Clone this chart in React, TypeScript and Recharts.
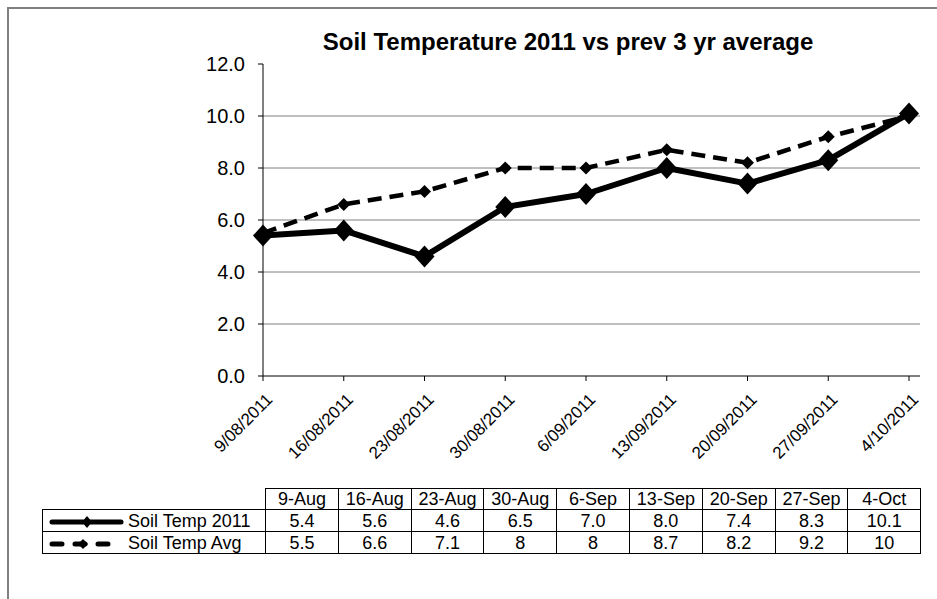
import React from "react";
import { LineChart, Line, XAxis, YAxis, CartesianGrid } from "recharts";

const dates = [
  "9/08/2011",
  "16/08/2011",
  "23/08/2011",
  "30/08/2011",
  "6/09/2011",
  "13/09/2011",
  "20/09/2011",
  "27/09/2011",
  "4/10/2011",
];
const shortDates = ["9-Aug", "16-Aug", "23-Aug", "30-Aug", "6-Sep", "13-Sep", "20-Sep", "27-Sep", "4-Oct"];
const temp2011 = [5.4, 5.6, 4.6, 6.5, 7.0, 8.0, 7.4, 8.3, 10.1];
const tempAvg = [5.5, 6.6, 7.1, 8, 8, 8.7, 8.2, 9.2, 10];
const yTicks = [0, 2, 4, 6, 8, 10, 12];

const data = dates.map((d, i) => ({ date: d, t2011: temp2011[i], avg: tempAvg[i] }));

const FONT = "'Liberation Sans', Arial, sans-serif";

const diamond = (rx: number, ry: number) => (props: any) => {
  const { cx, cy, index } = props;
  if (cx == null || cy == null) return <g key={index} />;
  return (
    <path
      key={index}
      d={`M${cx},${cy - ry}L${cx + rx},${cy}L${cx},${cy + ry}L${cx - rx},${cy}Z`}
      fill="#000"
    />
  );
};

const DateTick = (props: any) => {
  const { x, y, payload } = props;
  return (
    <g transform={`translate(${x + 2},${y + 11})`}>
      <text
        x={0}
        y={0}
        dy="0.71em"
        textAnchor="end"
        transform="rotate(-45)"
        fontSize={17}
        fontFamily={FONT}
        fill="#000"
      >
        {payload.value}
      </text>
    </g>
  );
};

const gridLines = ({ yAxis, offset }: any) =>
  yTicks
    .slice(1, -1)
    .map((v) =>
      yAxis && typeof yAxis.scale === "function"
        ? yAxis.scale(v)
        : offset.top + offset.height * (1 - v / yTicks[yTicks.length - 1])
    );

const LegendKey = ({ dashed }: { dashed?: boolean }) => (
  <svg width={85} height={14} style={{ verticalAlign: "middle" }}>
    {dashed ? (
      <>
        <line x1={9} y1={7} x2={70} y2={7} stroke="#000" strokeWidth={5} strokeLinecap="round" strokeDasharray="10 13" />
        <path d="M40,2L45,7L40,12L35,7Z" fill="#000" />
      </>
    ) : (
      <>
        <line x1={9} y1={7} x2={78} y2={7} stroke="#000" strokeWidth={5} strokeLinecap="round" />
        <path d="M44,1L49,7L44,13L39,7Z" fill="#000" />
      </>
    )}
  </svg>
);

const cell: React.CSSProperties = {
  border: "1px solid #000",
  padding: 0,
  textAlign: "center",
  whiteSpace: "nowrap",
  lineHeight: "18px",
};

export default function App() {
  return (
    <div
      style={{
        position: "absolute",
        left: 0,
        top: 0,
        width: 937,
        height: 599,
        overflow: "hidden",
        background: "#fff",
        fontFamily: FONT,
      }}
    >
      <div
        style={{
          position: "absolute",
          left: 7,
          top: 7,
          width: 960,
          height: 620,
          borderLeft: "2px solid #808080",
          borderTop: "2px solid #808080",
        }}
      />
      <svg width={937} height={70} style={{ position: "absolute", left: 0, top: 0 }}>
        <text x={568} y={50} textAnchor="middle" fontSize={24} fontWeight="bold" fontFamily={FONT} fill="#000">
          Soil Temperature 2011 vs prev 3 yr average
        </text>
      </svg>
      <div style={{ position: "absolute", left: 0, top: 0 }}>
        <LineChart width={937} height={480} data={data} margin={{ top: 64, right: 17, bottom: 14, left: 0 }}>
          <CartesianGrid vertical={false} stroke="#808080" horizontalCoordinatesGenerator={gridLines} />
          <XAxis
            dataKey="date"
            interval={0}
            height={90}
            padding={{ left: 0, right: 11 }}
            tickSize={5}
            tickMargin={0}
            stroke="#000"
            tickLine={{ stroke: "#000" }}
            tick={<DateTick />}
          />
          <YAxis
            width={263}
            domain={[0, 12]}
            ticks={yTicks}
            interval={0}
            tickSize={5}
            tickMargin={13}
            stroke="#000"
            tickFormatter={(v: number) => v.toFixed(1)}
            tick={{ fontSize: 20, fill: "#000", fontFamily: FONT }}
          />
          <Line
            dataKey="avg"
            stroke="#000"
            strokeWidth={4.5}
            strokeDasharray="14 8"
            dot={diamond(6.5, 6.5)}
            activeDot={false}
            isAnimationActive={false}
          />
          <Line
            dataKey="t2011"
            stroke="#000"
            strokeWidth={6}
            strokeLinejoin="round"
            dot={diamond(10, 11)}
            activeDot={false}
            isAnimationActive={false}
          />
        </LineChart>
      </div>
      <table
        style={{
          position: "absolute",
          left: 42,
          top: 488,
          width: 879,
          borderCollapse: "collapse",
          tableLayout: "fixed",
          fontSize: 18,
          fontFamily: FONT,
          color: "#000",
        }}
      >
        <colgroup>
          <col style={{ width: 223 }} />
          {shortDates.map((d) => (
            <col key={d} style={{ width: 72.8 }} />
          ))}
        </colgroup>
        <tbody>
          <tr style={{ height: 21 }}>
            <td style={{ ...cell, border: "none" }} />
            {shortDates.map((d) => (
              <td key={d} style={cell}>
                {d}
              </td>
            ))}
          </tr>
          <tr style={{ height: 22 }}>
            <td style={{ ...cell, textAlign: "left" }}>
              <LegendKey />
              Soil Temp 2011
            </td>
            {temp2011.map((v, i) => (
              <td key={i} style={cell}>
                {v.toFixed(1)}
              </td>
            ))}
          </tr>
          <tr style={{ height: 22 }}>
            <td style={{ ...cell, textAlign: "left" }}>
              <LegendKey dashed />
              Soil Temp Avg
            </td>
            {tempAvg.map((v, i) => (
              <td key={i} style={cell}>
                {String(v)}
              </td>
            ))}
          </tr>
        </tbody>
      </table>
    </div>
  );
}
